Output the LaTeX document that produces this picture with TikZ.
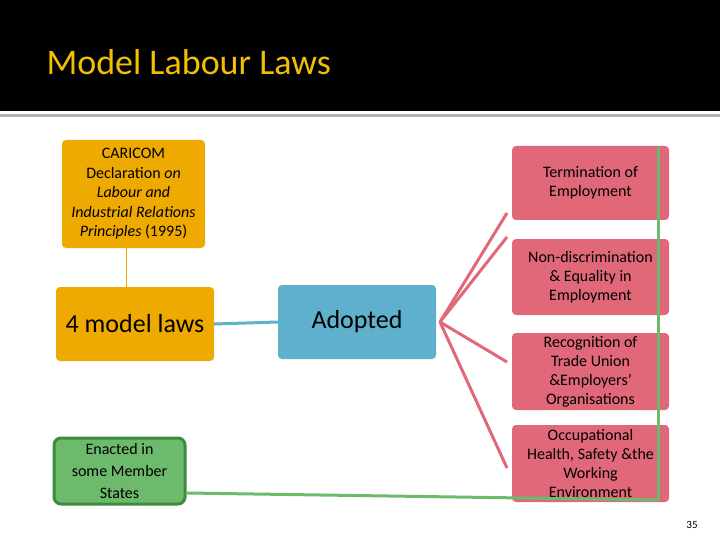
\documentclass[tikz,border=0pt]{standalone}
\usepackage{fontspec}
\setmainfont{Carlito}
\begin{document}
\begin{tikzpicture}[x=1pt,y=-1pt,
 gold/.style={fill=gold1,rounded corners=4pt,align=center,inner sep=0pt},
 pinkb/.style={fill=pink1,rounded corners=4pt,align=center,inner sep=0pt,minimum width=157pt,font=\fontsize{16}{19}\selectfont},
 pinkl/.style={draw=pink1,line width=3pt}]
\definecolor{gold1}{HTML}{EEAA00}
\definecolor{blue1}{HTML}{5FB0CC}
\definecolor{pink1}{HTML}{E16878}
\definecolor{green1}{HTML}{6DBA6D}
\definecolor{green2}{HTML}{3E8A3E}
\definecolor{title}{HTML}{F2C000}
\useasboundingbox (0,0) rectangle (720,540);
\fill[black] (0,0) rectangle (720,111);
\fill[gray!60] (0,114) rectangle (720,117);
\node[anchor=west,text=title,font=\fontsize{36}{40}\selectfont] (t) at (43,62) {Model Labour Laws};
\node[gold,minimum width=143pt,minimum height=108pt,font=\fontsize{16}{19.5}\selectfont] (car) at (133.5,194) {CARICOM\\Declaration \textit{on}\\\textit{Labour and}\\\textit{Industrial Relations}\\\textit{Principles} (1995)};
\node[gold,minimum width=158pt,minimum height=74pt,font=\fontsize{26}{30}\selectfont,text=black] (m) at (135,324) {4 model laws};
\node[fill=blue1,rounded corners=4pt,minimum width=158pt,minimum height=74pt,font=\fontsize{26}{30}\selectfont] (a) at (357,322) {Adopted};
\node[pinkb,minimum height=74pt] (p1) at (590.5,183) {Termination of\\Employment};
\node[pinkb,minimum height=76pt] (p2) at (590.5,277) {Non-discrimination\\\& Equality in\\Employment};
\node[pinkb,minimum height=77pt] (p3) at (590.5,371.5) {Recognition of\\Trade Union\\\&Employers'\\Organisations};
\node[pinkb,minimum height=77pt] (p4) at (590.5,463.5) {Occupational\\Health, Safety \&the\\Working\\Environment};
\node[fill=green1,draw=green2,line width=3pt,rounded corners=7pt,minimum width=131pt,minimum height=66pt,align=center,inner sep=0pt,font=\fontsize{16}{22}\selectfont] (g) at (119.5,471) {Enacted in\\some Member\\States};
\draw[gold1,line width=1pt] (car.south -| 126,0) -- (m.north -| 126,0);
\draw[blue1,line width=3pt] (m.east) -- (a.west);
\coordinate (o) at (440,322);
\coordinate (e1) at (507,213);
\coordinate (e2) at (507,237);
\coordinate (e3) at (507,362);
\coordinate (e4) at (507,468);
\foreach \e in {e1,e2,e3,e4} \draw[pinkl] (o) -- (\e);
\coordinate (gv1) at (658,147);
\coordinate (gv2) at (658,500);
\draw[green1,line width=3pt] (g.east |- 0,493) -- (gv2);
\draw[green1,line width=3pt] (gv1) -- (gv2);
\node[font=\fontsize{11}{13}\selectfont] (n) at (692,525) {35};
\end{tikzpicture}
\end{document}
